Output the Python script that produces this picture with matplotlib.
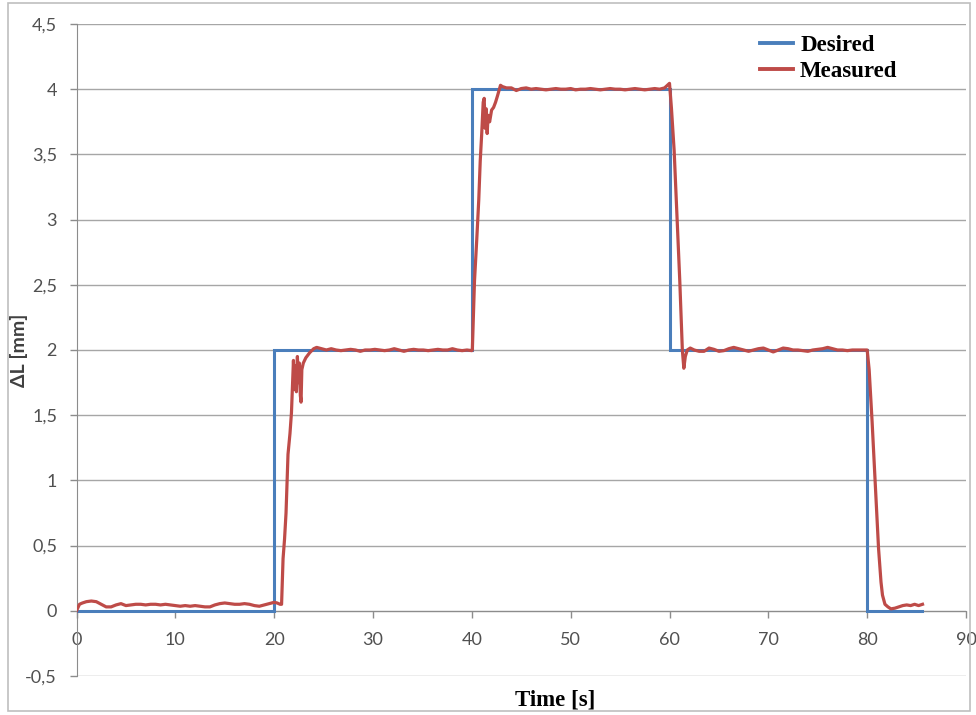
import numpy as np
import matplotlib
matplotlib.use("Agg")
import matplotlib.pyplot as plt
from matplotlib.lines import Line2D

# ---------------- data ----------------
desired_t = [0, 20, 40, 60, 80, 85.5]
desired_v = [0, 2, 4, 2, 0, 0]

base_t = [0, 0.3, 0.6, 1.0, 1.5, 2.0, 2.5, 3.0, 3.5, 4.0, 4.5, 5.0, 5.5, 6.0, 6.5, 7.0,
          7.5, 8.0, 8.5, 9.0, 9.5, 10.0, 10.5, 11.0, 11.5, 12.0, 12.5, 13.0, 13.5, 14.0,
          14.5, 15.0, 15.5, 16.0, 16.5, 17.0, 17.5, 18.0, 18.5, 19.0, 19.5, 20.0, 20.3, 20.6]
base_v = [0.0, 0.05, 0.06, 0.07, 0.075, 0.07, 0.05, 0.03, 0.03, 0.045, 0.055, 0.04, 0.045,
          0.05, 0.05, 0.045, 0.05, 0.05, 0.045, 0.05, 0.045, 0.04, 0.035, 0.04, 0.035, 0.04,
          0.035, 0.03, 0.03, 0.045, 0.055, 0.06, 0.055, 0.05, 0.05, 0.055, 0.05, 0.04, 0.035,
          0.045, 0.055, 0.065, 0.06, 0.05]

rise1_t = [20.75, 20.9, 21.05, 21.2, 21.4, 21.6, 21.75, 21.85, 21.95, 22.05, 22.15, 22.25,
           22.35, 22.45, 22.55, 22.65, 22.72, 22.8, 22.95, 23.2, 23.6, 24.0]
rise1_v = [0.05, 0.4, 0.55, 0.75, 1.2, 1.36, 1.52, 1.72, 1.92, 1.7, 1.88, 1.68, 1.95, 1.75,
           1.9, 1.65, 1.6, 1.85, 1.9, 1.94, 1.98, 2.01]

plat2_v = [2.02, 2.01, 2.0, 2.01, 2.0, 1.995, 2.0, 2.005, 2.0, 1.99, 2.0, 2.0, 2.005, 2.0,
           1.995, 2.0, 2.01, 2.0, 1.99, 2.0, 2.005, 2.0, 2.0, 1.995, 2.0, 2.005, 2.0, 2.0,
           2.01, 2.0, 1.995, 2.0, 1.995]
plat2_range = (24.3, 40.0)

rise2_t = [40.05, 40.27, 40.5, 40.7, 40.85, 41.0, 41.15, 41.25, 41.35, 41.45, 41.55, 41.65,
           41.8, 42.0, 42.2, 42.4, 42.6, 42.9, 43.1]
rise2_v = [2.0, 2.53, 2.85, 3.15, 3.45, 3.66, 3.9, 3.93, 3.7, 3.85, 3.66, 3.8, 3.75, 3.84,
           3.86, 3.9, 3.95, 4.03, 4.02]

plat4_v = [4.01, 4.01, 3.99, 4.005, 4.01, 4.0, 4.005, 4.0, 3.995, 4.0, 4.005, 4.0, 4.0,
           4.005, 3.995, 4.0, 4.0, 4.005, 4.0, 3.995, 4.0, 4.005, 4.0, 4.0, 3.995, 4.0,
           4.005, 4.0, 3.995, 4.0, 4.005, 4.0, 4.01, 4.045]
plat4_range = (43.5, 60.0)

fall1_t = [60.2, 60.47, 60.75, 61.04, 61.3, 61.45, 61.6, 61.8, 62.1]
fall1_v = [3.85, 3.53, 3.03, 2.53, 2.0, 1.86, 1.95, 2.0, 2.015]

plat2b_v = [2.0, 1.99, 1.99, 2.015, 2.005, 1.99, 1.995, 2.01, 2.02, 2.01, 2.0, 1.99, 2.0,
            2.01, 2.015, 2.0, 1.985, 2.0, 2.015, 2.01, 2.0, 2.0, 1.995, 1.99, 2.0, 2.005,
            2.01, 2.02, 2.01, 2.0, 2.0, 1.995, 2.0, 2.0, 2.0, 2.0]
plat2b_range = (62.5, 80.0)

fall2_t = [80.2, 80.5, 80.8, 81.15, 81.4, 81.55, 81.8, 82.1, 82.4, 82.8, 83.2, 83.6, 84.0,
           84.4, 84.8, 85.2, 85.6]
fall2_v = [1.85, 1.45, 1.0, 0.48, 0.22, 0.12, 0.05, 0.03, 0.015, 0.02, 0.03, 0.04, 0.045,
           0.04, 0.05, 0.04, 0.05]

x_ticks = [0, 10, 20, 30, 40, 50, 60, 70, 80, 90]
y_ticks = [-0.5, 0, 0.5, 1, 1.5, 2, 2.5, 3, 3.5, 4, 4.5]
y_tick_labels = ["-0,5", "0", "0,5", "1", "1,5", "2", "2,5", "3", "3,5", "4", "4,5"]

# assemble measured series
meas_t = (list(base_t) + list(rise1_t)
          + list(np.linspace(*plat2_range, len(plat2_v))) + list(rise2_t)
          + list(np.linspace(*plat4_range, len(plat4_v))) + list(fall1_t)
          + list(np.linspace(*plat2b_range, len(plat2b_v))) + list(fall2_t))
meas_v = (base_v + rise1_v + plat2_v + rise2_v + plat4_v + fall1_v + plat2b_v + fall2_v)

# ---------------- figure ----------------
BLUE = "#4A7EBB"
RED = "#BE4B48"
GRID = "#A6A6A6"
TXT = "#505050"

fig = plt.figure(figsize=(9.76, 7.15), dpi=100)
fig.patch.set_facecolor("white")
# outer chart border
fig.add_artist(plt.Rectangle((8 / 976, 4 / 715), 962 / 976, 708 / 715,
                             transform=fig.transFigure, fill=False,
                             edgecolor="#BFBFBF", lw=1.2))

ax = fig.add_axes([76.5 / 976, 1 - 676 / 715, (966 - 76.5) / 976, (676 - 24) / 715])

ax.step(desired_t, desired_v, where="post", color=BLUE, lw=2.2, zorder=3,
        solid_joinstyle="miter")
ax.plot(meas_t, meas_v, color=RED, lw=2.3, zorder=4)

ax.set_xlim(0, 90)
ax.set_ylim(-0.5, 4.5)
ax.set_xticks(x_ticks)
ax.set_yticks(y_ticks)
ax.set_yticklabels(y_tick_labels)

ax.grid(axis="y", color=GRID, lw=1.0)
ax.set_axisbelow(True)

for s in ["top", "right"]:
    ax.spines[s].set_visible(False)
ax.spines["bottom"].set_position(("data", 0))
ax.spines["bottom"].set_color("#8C8C8C")
ax.spines["left"].set_color("#8C8C8C")
ax.spines["bottom"].set_zorder(2)

ax.tick_params(axis="both", colors="#8C8C8C", length=5, width=1, direction="out",
               labelcolor=TXT, labelsize=13)
ax.tick_params(axis="y", pad=9)
ax.tick_params(axis="x", pad=10)
for lab in ax.get_xticklabels() + ax.get_yticklabels():
    lab.set_fontfamily("Lato")

fig.text(19 / 976, 1 - 350 / 715, "ΔL [mm]", rotation=90, ha="center", va="center",
         fontsize=14, fontweight="bold", family=["Lato", "DejaVu Sans"], color="#404040")
fig.text(555 / 976, 1 - 700 / 715, "Time [s]", ha="center", va="center",
         fontsize=16.5, fontweight="bold", family="Liberation Serif", color="black")

handles = [Line2D([], [], color=BLUE, lw=2.8), Line2D([], [], color=RED, lw=2.8)]
leg = ax.legend(handles, ["Desired", "Measured"], loc="upper left",
                bbox_to_anchor=(760 / 976, 1 - 35 / 715), bbox_transform=fig.transFigure,
                frameon=False, handlelength=1.45, handletextpad=0.3, labelspacing=0.22,
                borderaxespad=0, borderpad=0,
                prop={"family": "Liberation Serif", "weight": "bold", "size": 16.5})

fig.savefig("out.png", dpi=100, facecolor="white")
